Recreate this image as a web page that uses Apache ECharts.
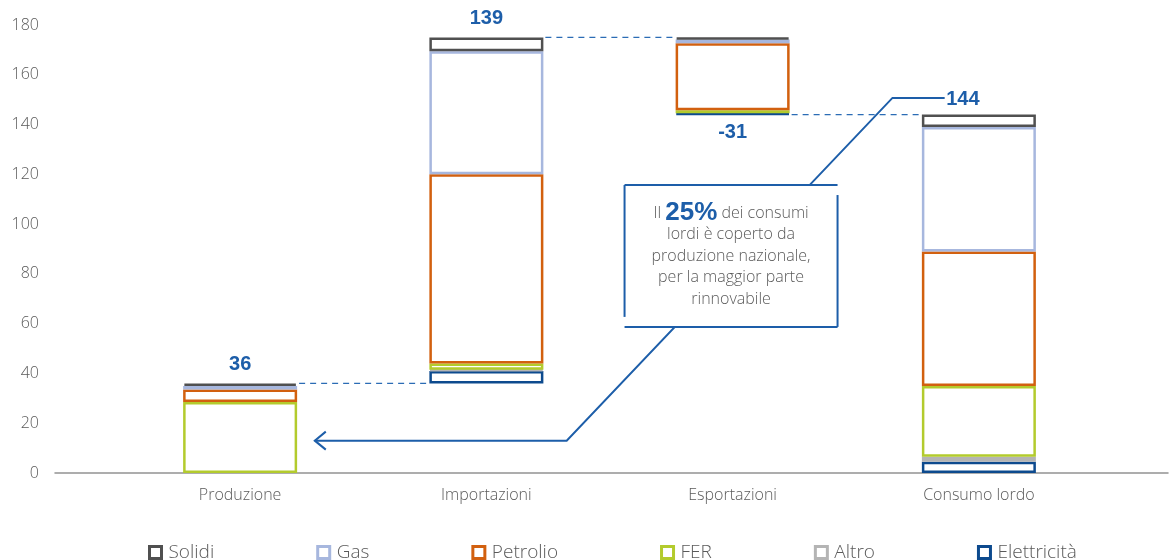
<!DOCTYPE html>
<html>
<head>
<meta charset="utf-8">
<script src="https://cdn.jsdelivr.net/npm/echarts@6/dist/echarts.min.js"></script>
<style>
  html, body { margin: 0; padding: 0; background: #fff; }
  #chart { width: 1171px; height: 560px; }
</style>
</head>
<body>
<div id="chart"></div>
<script>
// Bilancio energetico (Mtep): produzione, importazioni, esportazioni, consumo lordo
const categories = ['Produzione', 'Importazioni', 'Esportazioni', 'Consumo lordo'];
const legendOrder = ['Solidi', 'Gas', 'Petrolio', 'FER', 'Altro', 'Elettricità'];

// values per source, one entry per category (stacked bottom to top)
const elettricita = [0, 5, 0.5, 4.5];
const altro       = [0, 0.5, 0, 2];
const fer         = [28.5, 2.5, 1.2, 28.5];
const petrolio    = [5, 76, 27, 54];
const gas         = [1.5, 49.5, 1.5, 50];
const solidi      = [1, 5.5, 0.8, 5];

// y-axis ticks
const yTicks = [0, 20, 40, 60, 80, 100, 120, 140, 160, 180];

const stackOrder = [
  { name: 'Elettricità', values: elettricita, color: '#0d4a8e' },
  { name: 'Altro',       values: altro,       color: '#b4b4b4' },
  { name: 'FER',         values: fer,         color: '#b3cb2d' },
  { name: 'Petrolio',    values: petrolio,    color: '#d2600f' },
  { name: 'Gas',         values: gas,         color: '#a7b7de' },
  { name: 'Solidi',      values: solidi,      color: '#505050' }
];

// totals per category and floating offsets of the waterfall
const totals = categories.map((_, i) => stackOrder.reduce((s, d) => s + d.values[i], 0));
const offsets = [0, totals[0], totals[0] + totals[1] - totals[2], 0];
const signedTotals = totals.map((t, i) => (i === 2 ? -t : t));
const tops = offsets.map((o, i) => o + totals[i]);

const BLUE = '#1d5ea9';
const TEXT = '#5a5a5a';
const FONT = '"Open Sans", "Liberation Sans", Arial, sans-serif';
const BOLD_FONT = '"Liberation Sans", Arial, sans-serif';
const TOP = 25, BOTTOM = 87;
const X_MIN = -0.75, X_MAX = 3.77;
const BAR_WIDTH = 114;

const chart = echarts.init(document.getElementById('chart'), null, { renderer: 'canvas' });

const labelStyle = { color: BLUE, fontSize: 20, fontWeight: 'bold', fontFamily: BOLD_FONT };

const series = [{
  name: 'base',
  type: 'bar',
  stack: 'bilancio',
  barWidth: BAR_WIDTH,
  z: 1,
  silent: true,
  itemStyle: { color: 'rgba(0,0,0,0)', borderWidth: 0 },
  emphasis: { disabled: true },
  data: offsets,
  label: {
    show: true,
    position: 'insideTop',
    distance: 8,
    ...labelStyle,
    formatter: p => (p.dataIndex === 2 ? String(Math.round(signedTotals[2])) : '')
  }
}];

stackOrder.forEach(s => {
  const isTop = s.name === 'Solidi';
  series.push({
    name: s.name,
    type: 'bar',
    stack: 'bilancio',
    barWidth: BAR_WIDTH,
    z: 2,
    itemStyle: { color: '#ffffff', borderColor: s.color, borderWidth: 2.5 },
    emphasis: { disabled: true },
    data: s.values.map((v, i) => {
      const item = { value: v === 0 ? '-' : v };
      // the consumption total sits slightly left of its bar, level with the callout line
      if (isTop && i === 3) item.label = { offset: [-16, 4] };
      return item;
    }),
    label: isTop ? {
      show: true,
      position: 'top',
      distance: 9,
      ...labelStyle,
      formatter: p => (p.dataIndex === 2 ? '' : String(Math.round(signedTotals[p.dataIndex])))
    } : { show: false }
  });
});

const colorOf = name => stackOrder.find(s => s.name === name).color;
const yRange = { min: yTicks[0], max: yTicks[yTicks.length - 1], interval: yTicks[1] - yTicks[0] };

chart.setOption({
  animation: false,
  grid: [
    // bars
    { left: 117, right: 69, top: TOP, bottom: BOTTOM },
    // full-width frame: y labels, baseline and callout
    { left: 55, right: 3, top: TOP, bottom: BOTTOM }
  ],
  xAxis: [{
    type: 'category',
    gridIndex: 0,
    data: categories,
    axisLine: { show: false },
    axisTick: { show: false },
    axisLabel: { color: TEXT, fontSize: 16, fontWeight: 300, fontFamily: FONT, margin: 14 }
  }, {
    type: 'value',
    gridIndex: 1,
    min: X_MIN, max: X_MAX,
    axisLine: { show: true, lineStyle: { color: '#929292', width: 1.5 } },
    axisTick: { show: false },
    axisLabel: { show: false },
    splitLine: { show: false }
  }],
  yAxis: [{
    type: 'value',
    gridIndex: 0,
    ...yRange,
    show: false,
    splitLine: { show: false }
  }, {
    type: 'value',
    gridIndex: 1,
    ...yRange,
    axisLine: { show: false },
    axisTick: { show: false },
    splitLine: { show: false },
    axisLabel: { color: TEXT, fontSize: 16, fontWeight: 300, fontFamily: FONT, margin: 16 }
  }],
  legend: {
    left: 143,
    top: 538,
    itemGap: 102,
    itemWidth: 12,
    itemHeight: 12,
    icon: 'rect',
    textStyle: { color: TEXT, fontSize: 19, fontWeight: 300, fontFamily: FONT, padding: [0, 0, 0, 2] },
    data: legendOrder.map(n => ({
      name: n,
      itemStyle: { color: '#ffffff', borderColor: colorOf(n), borderWidth: 3 }
    }))
  },
  series: series
});

// pixel helpers: category grid for bar edges, full-width grid for the callout
const barPx = (i, v) => chart.convertToPixel({ xAxisIndex: 0, yAxisIndex: 0 }, [i, v]);
const px = p => chart.convertToPixel({ xAxisIndex: 1, yAxisIndex: 1 }, p);
const half = BAR_WIDTH / 2;

// dashed connectors between consecutive bars of the waterfall
const connectorLevels = [[0, tops[0]], [1, tops[1]], [2, offsets[2]]];
const connectors = connectorLevels.map(([i, v]) => {
  const a = barPx(i, v), b = barPx(i + 1, v);
  return {
    type: 'line', z: 5, silent: true,
    shape: { x1: a[0] + half + 2, y1: a[1], x2: b[0] - half - 2, y2: b[1] },
    style: { stroke: '#2b6cb5', lineWidth: 1.2, lineDash: [6, 5] }
  };
});

// callout: arrow from consumo lordo back to the national production bar
const arrowPath = [[0.305, 13], [1.328, 13], [2.651, 150.7], [2.863, 150.7]].map(px);
const boxTL = px([1.563, 115.7]);
const boxBR = px([2.428, 58.7]);
const tip = arrowPath[0];
const lineStyle = { stroke: BLUE, lineWidth: 2, fill: null };
const bx = boxTL[0], by = boxTL[1], bw = boxBR[0] - boxTL[0], bh = boxBR[1] - boxTL[1];

chart.setOption({
  graphic: connectors.concat([
    { type: 'polyline', z: 10, shape: { points: arrowPath }, style: lineStyle },
    { type: 'polyline', z: 10, shape: { points: [[tip[0] + 11, tip[1] - 9], tip, [tip[0] + 11, tip[1] + 9]] }, style: lineStyle },
    { type: 'rect', z: 11, shape: { x: bx, y: by, width: bw, height: bh }, style: { fill: '#ffffff' } },
    { type: 'line', z: 12, shape: { x1: bx, y1: by, x2: bx + bw, y2: by }, style: lineStyle },
    { type: 'line', z: 12, shape: { x1: bx, y1: by, x2: bx, y2: by + bh - 10 }, style: lineStyle },
    { type: 'line', z: 12, shape: { x1: bx, y1: by + bh, x2: bx + bw, y2: by + bh }, style: lineStyle },
    { type: 'line', z: 12, shape: { x1: bx + bw, y1: by + 10, x2: bx + bw, y2: by + bh }, style: lineStyle },
    {
      type: 'text', z: 13,
      x: bx + bw / 2, y: by + bh / 2,
      style: {
        text: '{n|Il }{b|25%}{n| dei consumi}\n{n|lordi è coperto da}\n{n|produzione nazionale,}\n{n|per la maggior parte}\n{n|rinnovabile}',
        align: 'center',
        verticalAlign: 'middle',
        rich: {
          n: { fontSize: 16, fontWeight: 300, fontFamily: FONT, fill: TEXT, lineHeight: 21.5 },
          b: { fontSize: 26, fontWeight: 'bold', fontFamily: BOLD_FONT, fill: BLUE, lineHeight: 21.5 }
        }
      }
    }
  ])
});
</script>
</body>
</html>
